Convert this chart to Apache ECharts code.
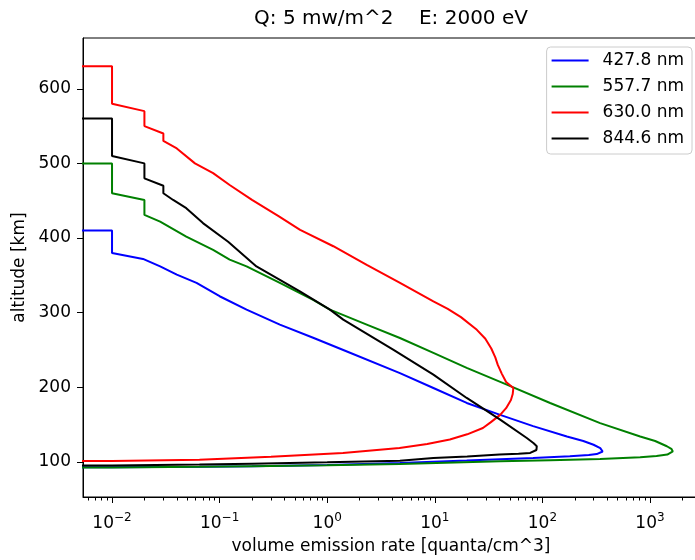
<!DOCTYPE html>
<html><head><meta charset="utf-8">
<script src="https://cdn.jsdelivr.net/npm/echarts@6/dist/echarts.min.js"></script>
<style>html,body{margin:0;padding:0;background:#fff;overflow:hidden}#c{width:699px;height:560px}</style>
</head><body><div id="c"></div>
<script>
const seriesNames = ['427.8 nm', '557.7 nm', '630.0 nm', '844.6 nm'];
const seriesColors = ['#0000ff', '#008000', '#ff0000', '#000000'];

// 427.8 nm
const blueVer = [1e-4, 0.01, 0.01, 0.0194, 0.028, 0.04, 0.061, 0.1, 0.178, 0.363, 0.75, 1.41, 4.74, 9.7, 19.8, 40.5, 82, 169, 240, 299, 345, 363, 352, 320, 270, 180, 82, 19.8, 4.74, 1.0, 0.2, 0.065, 0.01, 1e-4];
const blueAlt = [410, 410, 380, 372, 362, 351, 340, 322, 304, 284, 266, 250, 219, 199, 179, 163, 148, 134, 128, 123, 118.5, 114, 111.8, 110.5, 109.3, 107.6, 105.4, 102, 98.7, 96, 94.3, 93.4, 92.8, 92.3];
// 557.7 nm
const greenVer = [1e-4, 0.01, 0.01, 0.02, 0.02, 0.028, 0.049, 0.087, 0.124, 0.178, 0.363, 0.74, 1.06, 2.33, 4.74, 9.7, 19.8, 46.7, 118, 344, 811, 1117, 1435, 1580, 1630, 1600, 1450, 1150, 811, 344, 118, 40.5, 4.74, 1.0, 0.2, 0.065, 0.01, 1e-4];
const greenAlt = [500, 500, 460, 451, 431, 422, 402, 384, 371, 362, 340, 317, 304, 284, 266, 246, 226, 203.5, 179, 152, 134, 128, 121, 117.5, 114, 111.8, 109.8, 108, 106.4, 104, 102.4, 100.8, 97.3, 95.5, 94.2, 93.4, 92.6, 92];
// 630.0 nm
const redVer = [1e-4, 0.01, 0.01, 0.02, 0.02, 0.03, 0.03, 0.04, 0.059, 0.087, 0.124, 0.2, 0.356, 0.56, 1.14, 2.33, 4.75, 9.7, 13.2, 17.5, 24.6, 29.5, 33.5, 36.5, 38.5, 42, 46, 53.7, 53, 51, 46, 40.5, 33, 28, 20, 13.8, 8.5, 4.7, 1.4, 0.3, 0.065, 0.01, 1e-4];
const redAlt = [630, 630, 580, 570, 550, 540, 530, 520, 500, 487, 471, 451, 429, 411, 389, 364, 340, 315, 305, 294, 277, 265, 252, 240, 230, 218, 207, 199, 191, 183, 172, 163, 153, 145.5, 137, 130, 124, 118.7, 112, 107, 103, 101.2, 100.3];
// 844.6 nm
const blackVer = [1e-4, 0.01, 0.01, 0.02, 0.02, 0.03, 0.03, 0.037, 0.049, 0.07, 0.12, 0.22, 0.557, 1.06, 1.41, 4.1, 9.7, 19.8, 40.5, 71.6, 83, 88.7, 91, 88, 77, 60, 40, 20, 9.7, 4.74, 1.0, 0.2, 0.065, 0.01, 1e-4];
const blackAlt = [560, 560, 510, 500, 480, 470, 460, 451, 440, 420, 395, 362, 328.5, 304, 290.6, 250.4, 217, 185.7, 156.7, 132, 125, 121, 118.5, 116, 112, 110.8, 109.8, 107.2, 105.4, 101.7, 99.5, 97.6, 96.4, 95.2, 94.5];

const xMajorTicks = [0.01, 0.1, 1, 10, 100, 1000];
const xMinorTicks = [0.006, 0.007, 0.008, 0.009,
  0.02, 0.03, 0.04, 0.05, 0.06, 0.07, 0.08, 0.09,
  0.2, 0.3, 0.4, 0.5, 0.6, 0.7, 0.8, 0.9,
  2, 3, 4, 5, 6, 7, 8, 9,
  20, 30, 40, 50, 60, 70, 80, 90,
  200, 300, 400, 500, 600, 700, 800, 900, 2000];
const yTicks = [100, 200, 300, 400, 500, 600];

const titleText = 'Q: 5 mw/m^2    E: 2000 eV';
const xName = 'volume emission rate [quanta/cm^3]';
const yName = 'altitude [km]';

const FONT = 'DejaVu Sans';
const pairs = (v, a) => v.map((x, i) => [x, a[i]]);
const allVer = [blueVer, greenVer, redVer, blackVer];
const allAlt = [blueAlt, greenAlt, redAlt, blackAlt];

const chart = echarts.init(document.getElementById('c'), null, {renderer: 'canvas'});
chart.setOption({
  animation: false,
  backgroundColor: '#ffffff',
  title: {
    text: titleText, left: 386, top: 4, textAlign: 'center',
    textStyle: {fontFamily: FONT, fontSize: 20, fontWeight: 'normal', color: '#000'}
  },
  legend: {
    data: seriesNames, orient: 'vertical', right: 7, top: 47,
    icon: 'rect', itemWidth: 37, itemHeight: 2, itemGap: 9,
    padding: [5, 8, 7, 5],
    backgroundColor: 'rgba(255,255,255,0.8)', borderColor: '#cccccc', borderWidth: 1, borderRadius: 4,
    textStyle: {fontFamily: FONT, fontSize: 17, color: '#000', padding: [0, 0, 0, 9]}
  },
  grid: {left: 83, right: 0, top: 38, bottom: 63, show: true, borderColor: '#000', borderWidth: 1, backgroundColor: 'transparent'},
  xAxis: [{
    type: 'log', logBase: 10, min: 0.005373, max: 2855, position: 'bottom',
    axisLine: {show: true, lineStyle: {color: '#000', width: 1}},
    axisTick: {show: true, length: 6, customValues: xMajorTicks, lineStyle: {color: '#000', width: 1}},
    splitLine: {show: false},
    axisLabel: {
      customValues: xMajorTicks, margin: 15, color: '#000',
      formatter: v => { const e = Math.round(Math.log10(v)); return '{b|10}{s|' + (e < 0 ? '\u2212' + (-e) : e) + '}'; },
      rich: {
        b: {fontFamily: FONT, fontSize: 17, lineHeight: 20, verticalAlign: 'bottom', color: '#000'},
        s: {fontFamily: FONT, fontSize: 12, lineHeight: 12, verticalAlign: 'top', color: '#000'}
      }
    },
    name: xName, nameLocation: 'middle', nameGap: 41,
    nameTextStyle: {fontFamily: FONT, fontSize: 17, color: '#000'}
  }, {
    type: 'log', logBase: 10, min: 0.005373, max: 2855, position: 'bottom',
    axisLine: {show: false},
    axisTick: {show: true, length: 3.5, customValues: xMinorTicks, lineStyle: {color: '#000', width: 1}},
    axisLabel: {show: false},
    splitLine: {show: false}
  }],
  yAxis: {
    type: 'value', min: 53, max: 668,
    axisLine: {show: true, lineStyle: {color: '#000', width: 1}},
    axisTick: {show: true, length: 6, customValues: yTicks, lineStyle: {color: '#000', width: 1}},
    axisLabel: {customValues: yTicks, margin: 12, fontFamily: FONT, fontSize: 17, color: '#000'},
    splitLine: {show: false},
    name: yName, nameLocation: 'middle', nameGap: 51,
    nameTextStyle: {fontFamily: FONT, fontSize: 17, color: '#000'}
  },
  series: seriesNames.map((n, i) => ({
    name: n, type: 'line', xAxisIndex: 0, yAxisIndex: 0,
    data: pairs(allVer[i], allAlt[i]),
    showSymbol: false, symbol: 'none', clip: true,
    color: seriesColors[i],
    lineStyle: {color: seriesColors[i], width: 2}
  }))
});
</script></body></html>
